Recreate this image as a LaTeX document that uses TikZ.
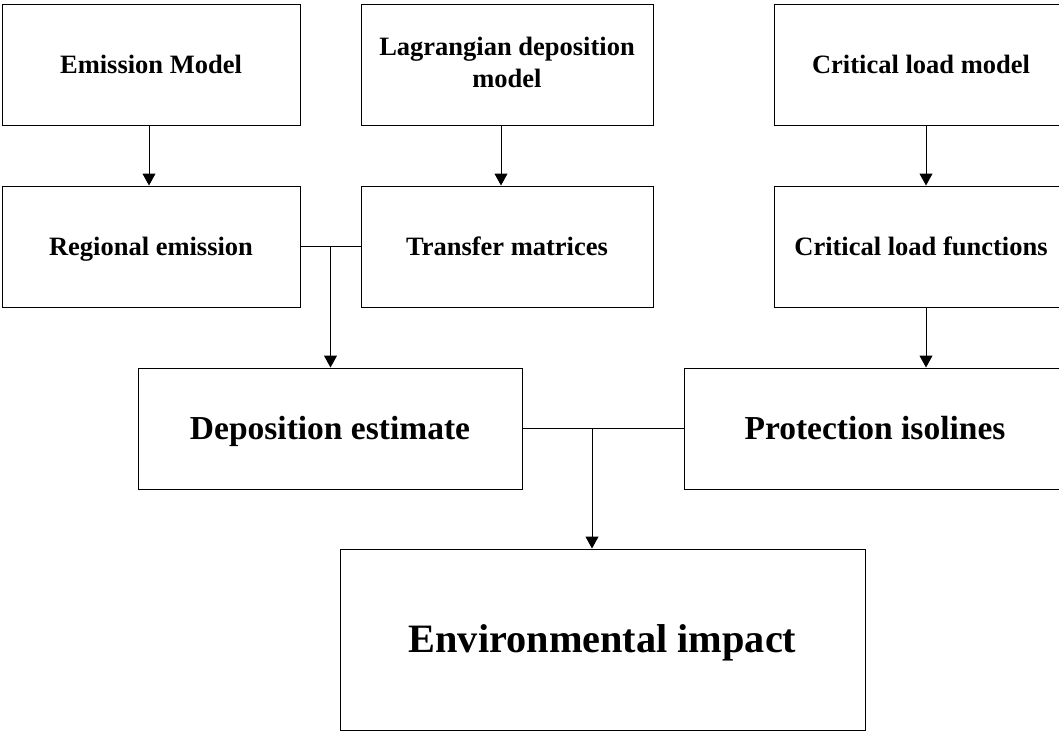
\documentclass[tikz,border=0pt]{standalone}
\usepackage{fontspec}
\setmainfont{Liberation Serif}
\usetikzlibrary{arrows.meta,calc}

\begin{document}
\begin{tikzpicture}[x=1pt,y=-1pt,
  box/.style={draw, line width=1pt, minimum height=121pt, inner sep=2pt,
              text height=17.5pt, text depth=0pt,
              font=\bfseries\fontsize{26.5}{32}\selectfont},
  bigbox/.style={box, text height=22pt, font=\bfseries\fontsize{33.5}{40}\selectfont},
  hugebox/.style={box, minimum height=181pt, text height=26.6pt,
                  font=\bfseries\fontsize{40.3}{48}\selectfont},
  link/.style={line width=1pt},
  arr/.style={link, -{Triangle[length=12pt,width=13pt]}}]

  \clip (0,0) rectangle (1059,731);

% Top row
  \node[box, minimum width=298pt] (em)  at (151,64.5) {Emission Model};
  \node[box, minimum width=292pt, align=center, text height=45.5pt] (lag) at (507,64.5) {Lagrangian deposition\\model};
  \node[box, minimum width=294pt] (clm) at (921,64.5) {Critical load model};

% Second row
  \node[box, minimum width=298pt] (re)  at (151,246.5) {Regional emission};
  \node[box, minimum width=292pt] (tm)  at (507,246.5) {Transfer matrices};
  \node[box, minimum width=294pt] (clf) at (921,246.5) {Critical load functions};

% Third row
  \node[bigbox, minimum width=384pt] (de) at (330,428.5) {Deposition estimate};
  \node[bigbox, minimum width=382pt] (pi) at (875,428.5) {Protection isolines};

% Result
  \node[hugebox, minimum width=525pt] (ei) at (602.5,639.5) {Environmental impact};

% Arrows
  \draw[arr] ([xshift=-2pt]em.south) -- ([xshift=-2pt]re.north);
  \draw[arr] ([xshift=-6pt]lag.south) -- ([xshift=-6pt]tm.north);
  \draw[arr] ([xshift=5pt]clm.south) -- ([xshift=5pt]clf.north);
  \draw[arr] ([xshift=5pt]clf.south) -- ([xshift=5pt]clf.south |- pi.north);

% Junctions
  \coordinate (j1) at ($(re.east)!0.5!(tm.west)$);
  \coordinate (j2) at (592,428.5);
  \draw[link] (re.east) -- (tm.west);
  \draw[arr] (j1) -- (j1 |- de.north);
  \draw[link] (de.east) -- (pi.west);
  \draw[arr] (j2) -- (j2 |- ei.north);

\end{tikzpicture}
\end{document}
